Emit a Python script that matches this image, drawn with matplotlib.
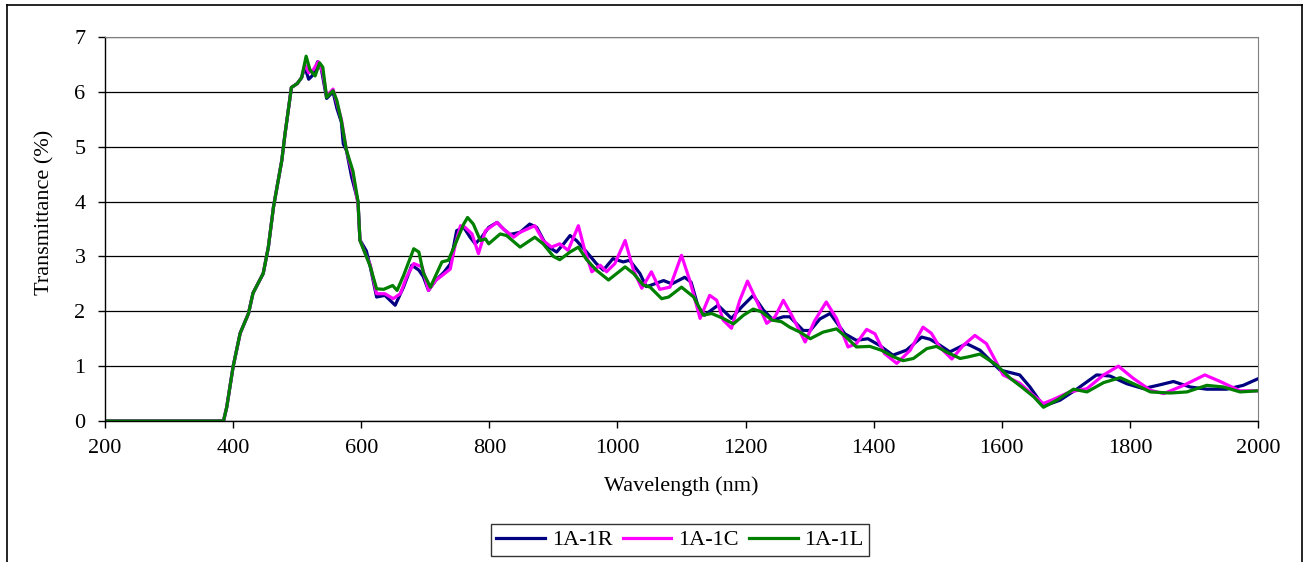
import matplotlib
matplotlib.use("Agg")
import matplotlib.pyplot as plt
from matplotlib.lines import Line2D

plt.rcParams['font.family'] = ['Liberation Serif', 'DejaVu Serif']

# wavelength (nm) / transmittance (%)
rise_wl = [200, 385, 390, 400, 411, 424, 431, 447, 455, 463, 476, 481, 491, 500, 507]
rise_t = [0, 0, 0.25, 0.99, 1.6, 1.96, 2.33, 2.69, 3.17, 3.9, 4.75, 5.23, 6.08, 6.15, 6.26]

r_wl = [512, 518, 524, 532, 538, 546, 556, 562, 569, 572, 577, 585, 595, 598, 608,
        614, 624, 637, 653, 666, 679, 690, 697, 705, 716, 729, 739, 749, 760, 770,
        778, 788, 799, 812, 822, 832, 848, 863, 874, 889, 905, 916, 926, 936, 952,
        967, 978, 993, 1009, 1019, 1035, 1045, 1051, 1072, 1085, 1105, 1115, 1126,
        1136, 1157, 1178, 1194, 1212, 1228, 1243, 1259, 1269, 1290, 1301, 1316,
        1332, 1355, 1373, 1391, 1409, 1430, 1451, 1475, 1488, 1501, 1519, 1545,
        1566, 1597, 1628, 1644, 1665, 1691, 1717, 1748, 1769, 1795, 1821, 1847,
        1868, 1894, 1920, 1951, 1977, 2000]
r_t = [6.45, 6.23, 6.3, 6.55, 6.4, 5.88, 6.0, 5.7, 5.45, 5.05, 4.93, 4.45, 4.0, 3.3, 3.1,
       2.82, 2.26, 2.29, 2.11, 2.44, 2.84, 2.75, 2.63, 2.38, 2.56, 2.71, 2.86, 3.47, 3.53, 3.35,
       3.23, 3.35, 3.53, 3.62, 3.5, 3.4, 3.44, 3.59, 3.53, 3.2, 3.08, 3.23, 3.38, 3.29, 3.08,
       2.87, 2.75, 2.96, 2.9, 2.93, 2.69, 2.45, 2.47, 2.56, 2.5, 2.62, 2.53, 2.08,
       1.93, 2.11, 1.87, 2.08, 2.29, 2.02, 1.84, 1.9, 1.9, 1.65, 1.65, 1.86,
       1.96, 1.59, 1.47, 1.5, 1.38, 1.2, 1.29, 1.53, 1.49, 1.4, 1.26, 1.41,
       1.29, 0.93, 0.84, 0.62, 0.27, 0.38, 0.58, 0.84, 0.82, 0.68, 0.59, 0.66,
       0.72, 0.62, 0.58, 0.58, 0.65, 0.77]

c_wl = [512, 518, 525, 533, 540, 546, 556, 562, 569, 577, 587, 595, 598, 608,
        614, 624, 637, 650, 661, 671, 682, 695, 705, 716, 726, 739, 747, 755, 762,
        773, 783, 794, 812, 822, 838, 848, 871, 884, 897, 910, 923, 939, 949, 960,
        973, 983, 996, 1012, 1025, 1038, 1053, 1066, 1082, 1100, 1113, 1129, 1144,
        1155, 1165, 1178, 1191, 1203, 1217, 1233, 1246, 1259, 1272, 1293, 1308,
        1326, 1342, 1360, 1373, 1389, 1402, 1417, 1436, 1457, 1477, 1490, 1503,
        1522, 1540, 1558, 1576, 1602, 1628, 1649, 1665, 1680, 1706, 1733, 1759,
        1782, 1805, 1832, 1853, 1884, 1917, 1941, 1972, 2000]
c_t = [6.5, 6.35, 6.4, 6.55, 6.35, 5.92, 6.05, 5.8, 5.5, 4.93, 4.5, 3.95, 3.3, 3.0,
       2.85, 2.32, 2.32, 2.23, 2.32, 2.63, 2.87, 2.81, 2.38, 2.56, 2.65, 2.77, 3.23, 3.56, 3.53,
       3.41, 3.05, 3.47, 3.62, 3.5, 3.35, 3.44, 3.56, 3.29, 3.17, 3.23, 3.11, 3.56, 3.11, 2.72,
       2.84, 2.72, 2.87, 3.29, 2.75, 2.42, 2.72, 2.4, 2.44, 3.02, 2.56, 1.87, 2.29,
       2.2, 1.84, 1.69, 2.2, 2.55, 2.2, 1.78, 1.9, 2.2, 1.93, 1.44, 1.83,
       2.17, 1.87, 1.35, 1.41, 1.67, 1.59, 1.23, 1.05, 1.29, 1.71, 1.6, 1.35,
       1.13, 1.38, 1.56, 1.41, 0.84, 0.69, 0.47, 0.32, 0.39, 0.53, 0.59, 0.84,
       1.0, 0.78, 0.56, 0.5, 0.65, 0.84, 0.72, 0.55, 0.55]

l_wl = [514, 520, 528, 535, 540, 546, 556, 562, 569, 577, 587, 595, 598, 608,
        614, 624, 635, 649, 656, 666, 682, 690, 697, 708, 726, 736, 747, 760, 766,
        775, 786, 794, 799, 817, 827, 848, 871, 884, 900, 910, 926, 939, 952, 967,
        986, 999, 1012, 1025, 1040, 1051, 1069, 1080, 1100, 1119, 1134, 1147, 1165,
        1181, 1197, 1212, 1225, 1241, 1256, 1269, 1285, 1301, 1321, 1342, 1357,
        1373, 1394, 1412, 1431, 1446, 1462, 1483, 1498, 1515, 1535, 1548, 1566,
        1592, 1613, 1631, 1650, 1665, 1686, 1712, 1733, 1759, 1785, 1811, 1832,
        1863, 1889, 1920, 1946, 1972, 2000]
l_t = [6.65, 6.4, 6.29, 6.53, 6.45, 5.9, 6.02, 5.84, 5.47, 4.93, 4.56, 4.0, 3.29, 3.0,
       2.82, 2.41, 2.4, 2.47, 2.38, 2.65, 3.14, 3.08, 2.7, 2.44, 2.9, 2.93, 3.23, 3.59, 3.71,
       3.59, 3.29, 3.32, 3.23, 3.41, 3.38, 3.17, 3.35, 3.23, 3.0, 2.94, 3.08, 3.17, 2.94, 2.75,
       2.57, 2.69, 2.81, 2.69, 2.48, 2.44, 2.23, 2.26, 2.44, 2.26, 1.93, 1.96, 1.87,
       1.77, 1.93, 2.04, 1.99, 1.84, 1.81, 1.71, 1.62, 1.5, 1.62, 1.68, 1.53,
       1.35, 1.36, 1.29, 1.17, 1.1, 1.14, 1.32, 1.36, 1.25, 1.14, 1.17, 1.22,
       1.02, 0.78, 0.62, 0.44, 0.25, 0.38, 0.58, 0.53, 0.70, 0.79, 0.65, 0.53,
       0.51, 0.53, 0.65, 0.62, 0.53, 0.55]

labels = ['1A-1R', '1A-1C', '1A-1L']
colors = ['#000080', '#ff00ff', '#008000']
x_ticks = [200, 400, 600, 800, 1000, 1200, 1400, 1600, 1800, 2000]
y_ticks = [0, 1, 2, 3, 4, 5, 6, 7]

W, H = 1305, 562
fig = plt.figure(figsize=(W / 100, H / 100), dpi=100)
ax = fig.add_axes([105 / W, 1 - 421 / H, 1153 / W, 384 / H])

# outer chart frame (bottom edge falls outside the image)
for xs, ys in [([7, 7], [5, 570]), ([7, 1302], [5, 5]), ([1302, 1302], [5, 570])]:
    fig.add_artist(Line2D([x / W for x in xs], [1 - y / H for y in ys],
                          color='black', lw=1.2, transform=fig.transFigure))

series = [(r_wl, r_t), (c_wl, c_t), (l_wl, l_t)]
handles = []
for (wl, t), lab, col in zip(series, labels, colors):
    h, = ax.plot(rise_wl + wl, rise_t + t, color=col, lw=2.3, label=lab,
                 solid_joinstyle='round')
    handles.append(h)

ax.set_xlim(200, 2000)
ax.set_ylim(0, 7)
ax.set_xticks(x_ticks)
ax.set_yticks(y_ticks)
ax.yaxis.grid(True, color='black', lw=0.9)
ax.set_axisbelow(True)

ax.spines['top'].set_color('#808080')
ax.spines['right'].set_color('#808080')
ax.spines['left'].set_linewidth(1.0)
ax.spines['bottom'].set_linewidth(1.0)
ax.tick_params(axis='both', direction='out', length=5, width=1, labelsize=16)
ax.tick_params(axis='y', pad=9)
ax.tick_params(axis='x', pad=8)

ax.set_xlabel('Wavelength (nm)', fontsize=16, labelpad=13)
ax.set_ylabel('Transmittance (%)', fontsize=16)
ax.yaxis.set_label_coords(-0.044, 0.544)

leg = fig.legend(handles=handles, labels=labels, loc='center',
                 bbox_to_anchor=(680 / W, 1 - 540 / H), ncol=3, fontsize=16,
                 frameon=True, fancybox=False, edgecolor='black',
                 handlelength=2.2, handletextpad=0.3, columnspacing=0.45,
                 borderpad=0.25, borderaxespad=0)
leg.get_frame().set_linewidth(1.0)

fig.savefig('out.png', dpi=100)
